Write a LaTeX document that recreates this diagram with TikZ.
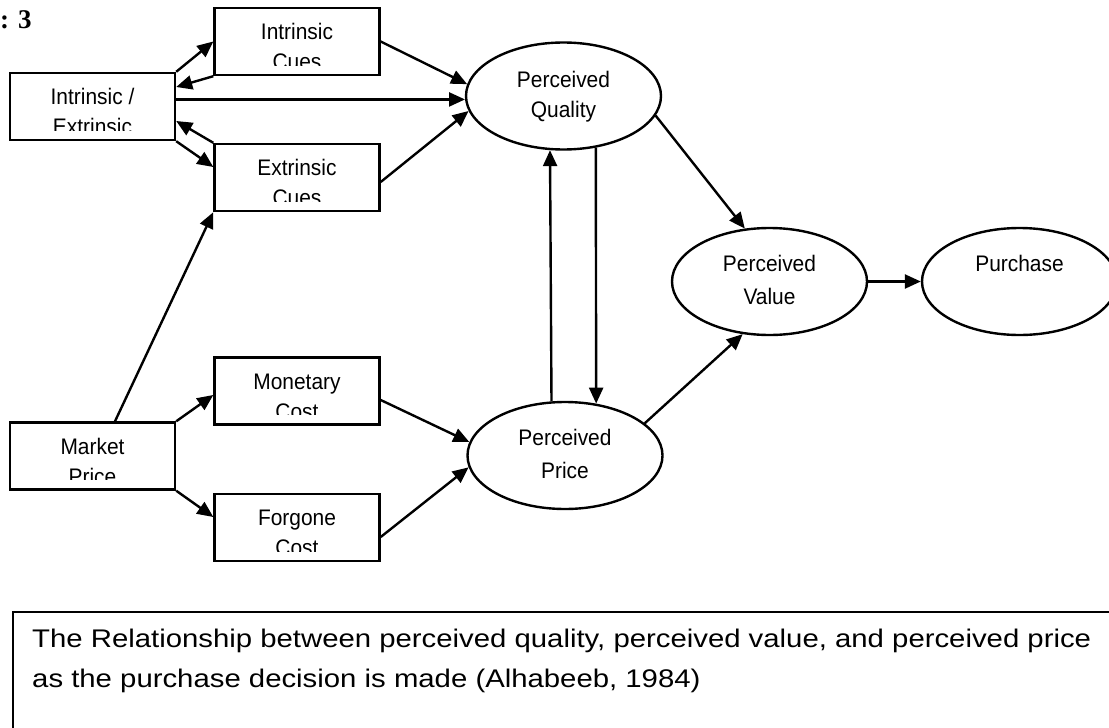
\documentclass[tikz,border=0pt]{standalone}
\usepackage{fontspec}
\setmainfont{Liberation Sans}
\newfontfamily\nodefont[FakeStretch=0.93]{Liberation Sans}
\newfontfamily\capfont[FakeStretch=1.15]{Liberation Sans}
\newfontfamily\numfont{Liberation Serif}
\usetikzlibrary{shapes.geometric,arrows.meta}
\newcommand\cliptext[6]{% name, x, y1, y2, text1, text2
  \begin{scope}
    \clip (#1.north west) rectangle ([yshift=11pt]#1.south east);
    \node[lbl] (#1a) at (#2,#3) {#5};
    \node[lbl] (#1b) at (#2,#4) {#6};
  \end{scope}}
\begin{document}
\begin{tikzpicture}[x=1pt,y=-1pt,
  box/.style={draw,line width=2.4pt,rectangle,minimum width=165pt,minimum height=67pt,inner sep=0pt},
  oval/.style={draw,line width=2.4pt,ellipse,minimum width=195pt,minimum height=107pt,inner sep=0pt},
  lbl/.style={anchor=base,inner sep=0pt,font=\nodefont\fontsize{22.5}{26}\selectfont},
  arr/.style={line width=2.4pt,-{Triangle[length=16pt,width=14pt]}}]
\useasboundingbox (0,0) rectangle (1109,728);
\clip (0,0) rectangle (1109,728);

% boxes
\node[box] (ie) at (92.5,106.5) {};
\node[box] (ic) at (297,41.5) {};
\node[box] (ec) at (297,177.5) {};
\node[box] (mc) at (297,391) {};
\node[box] (fc) at (297,527.5) {};
\node[box] (mp) at (92.5,456) {};

\cliptext{ie}{92.5}{104}{134}{Intrinsic /}{Extrinsic}
\cliptext{ic}{297}{39}{69}{Intrinsic}{Cues}
\cliptext{ec}{297}{175}{205}{Extrinsic}{Cues}
\cliptext{mc}{297}{389}{419}{Monetary}{Cost}
\cliptext{fc}{297}{525}{555}{Forgone}{Cost}
\cliptext{mp}{92.5}{454}{484}{Market}{Price}

% ellipses
\node[oval] (pq) at (563.5,96) {};
\node[oval] (pv) at (769.5,281.5) {};
\node[oval] (pp) at (565,455.5) {};
\node[oval] (pu) at (1019.5,281.5) {};

\node[lbl] (pqa) at (563.5,87) {Perceived};
\node[lbl] (pqb) at (563.5,117) {Quality};
\node[lbl] (pva) at (769.5,271) {Perceived};
\node[lbl] (pvb) at (769.5,304) {Value};
\node[lbl] (ppa) at (565,445) {Perceived};
\node[lbl] (ppb) at (565,478) {Price};
\node[lbl] (pua) at (1019.5,271) {Purchase};

% connectors
\draw[arr] (ie.north east) -- (ic.west);
\draw[arr] (ic.south west) -- ([yshift=19.5pt]ie.east);
\draw[arr] (ie.east |- pq.182.4) -- (pq.182.4);
\draw[arr] (ec.north west) -- ([yshift=-14.5pt]ie.east);
\draw[arr] (ie.south east) -- ([yshift=10.5pt]ec.west);
\draw[arr] (ic.east) -- (pq.173.5);
\draw[arr] ([yshift=-4.5pt]ec.east) -- (pq.189.5);
\draw[arr] ([xshift=22.5pt]mp.north) -- (ec.south west);
\draw[arr] (mp.north east) -- ([yshift=-4pt]mc.west);
\draw[arr] (mp.south east) -- ([yshift=10.5pt]fc.west);
\draw[arr] ([yshift=-9pt]mc.east) -- (pp.172.4);
\draw[arr] ([yshift=-9.5pt]fc.east) -- (pp.187);
\draw[arr] (pp.104.8) -- (pq.256.6);
\draw[arr] (pq.302.1) -- (pp.59.5);
\draw[arr] (pq.-12) -- (pv.115);
\draw[arr] (pp.22) -- (pv.243.7);
\draw[arr] (pv.east) -- (pu.west);

% caption
\node[draw,line width=2.4pt,rectangle,anchor=north west,minimum width=1190pt,minimum height=190pt,inner sep=0pt] (cap) at (12,611) {};
\node[anchor=base west,inner sep=0pt,font=\capfont\fontsize{25.5}{30}\selectfont] (capa) at (32,647) {The Relationship between perceived quality, perceived value, and perceived price};
\node[anchor=base west,inner sep=0pt,font=\capfont\fontsize{25.5}{30}\selectfont] (capb) at (32,687) {as the purchase decision is made (Alhabeeb, 1984)};

\node[anchor=base west,inner sep=0pt,font=\numfont\bfseries\fontsize{27}{30}\selectfont] (fig) at (0,28) {: 3};
\end{tikzpicture}
\end{document}
